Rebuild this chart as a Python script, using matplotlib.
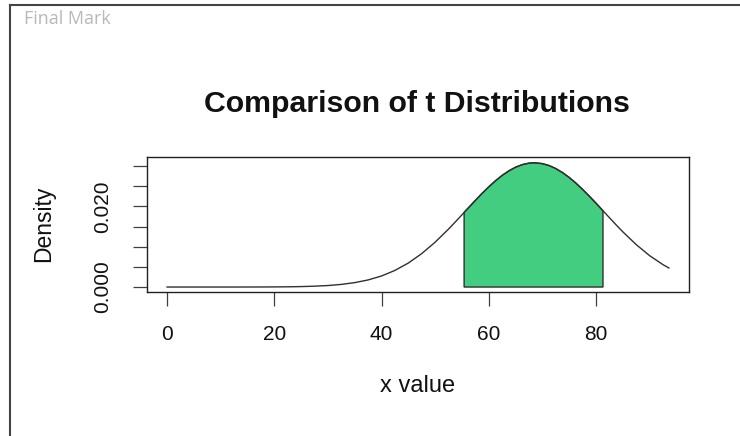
#! /usr/bin/env python3

#A program to redraw the t distribution comparison chart.

import numpy as np
import matplotlib
matplotlib.use('Agg')
import matplotlib.pyplot as plt
from matplotlib.lines import Line2D

#Density curve.
xVals = [0.0, 2.5, 5.0, 7.5, 10.0, 12.5, 15.0, 17.5, 20.0, 22.5, 25.0, 27.5, 30.0,
         32.5, 35.0, 37.5, 40.0, 42.5, 45.0, 47.5, 50.0, 52.5, 53.75, 55.0, 56.25,
         57.5, 58.75, 60.0, 61.25, 62.5, 63.75, 65.0, 66.25, 67.5, 68.5, 70.0, 71.25,
         72.5, 73.75, 75.0, 76.25, 77.5, 78.75, 80.0, 81.25, 82.5, 83.75, 85.0, 87.5,
         90.0, 92.5, 93.6]
densVals = [0.0, 0.0, 0.0, 0.0, 0.0, 0.0, 0.000006, 0.000013, 0.000028, 0.000057,
            0.00011, 0.00021, 0.00037, 0.00065, 0.00109, 0.00176, 0.00274, 0.00412,
            0.00595, 0.00829, 0.01112, 0.01437, 0.01612, 0.01790, 0.01971, 0.02148,
            0.02321, 0.02484, 0.02634, 0.02767, 0.02880, 0.02970, 0.03034, 0.03071,
            0.03080, 0.03059, 0.03011, 0.02937, 0.02837, 0.02716, 0.02576, 0.02420,
            0.02253, 0.02078, 0.01899, 0.01719, 0.01541, 0.01369, 0.01051, 0.00778,
            0.00554, 0.00472]

#Shaded region.
shadeX = [55.4, 56.25, 57.5, 58.75, 60.0, 61.25, 62.5, 63.75, 65.0, 66.25, 67.5,
          68.5, 70.0, 71.25, 72.5, 73.75, 75.0, 76.25, 77.5, 78.75, 80.0, 81.3]
shadeY = [0.01848, 0.01971, 0.02148, 0.02321, 0.02484, 0.02634, 0.02767, 0.02880,
          0.02970, 0.03034, 0.03071, 0.03080, 0.03059, 0.03011, 0.02937, 0.02837,
          0.02716, 0.02576, 0.02420, 0.02253, 0.02078, 0.01890]

#Axis ticks.
xTicks = [0, 20, 40, 60, 80]
yTicks = [0.000, 0.005, 0.010, 0.015, 0.020, 0.025, 0.030]
yTickLabels = ['0.000', '', '', '', '0.020', '', '']

titleStr = 'Comparison of t Distributions'

def plotDensity(outfile) :

  plt.rcParams['font.family'] = ['Liberation Sans', 'DejaVu Sans']

  fig = plt.figure(figsize = (7.4, 4.36), dpi = 100)
  W, H = 740.0, 436.0

  #Plot region in pixels: left 147, right 689, top 157, bottom 292.
  ax = fig.add_axes([147/W, 1 - 292/H, (689 - 147)/W, (292 - 157)/H])

  ax.plot(xVals, densVals, color = '#303030', lw = 1.0)

  #Polygon with a border, like R's polygon().
  polyX = [shadeX[0]] + shadeX + [shadeX[-1]]
  polyY = [0.0] + shadeY + [0.0]
  ax.fill(polyX, polyY, facecolor = '#43CD80', edgecolor = '#303030', lw = 1.0)

  #R style limits: 4% padding.
  xr = max(xVals) - min(xVals)
  ax.set_xlim(min(xVals) - 0.04*xr, max(xVals) + 0.04*xr)
  yr = max(densVals)
  ax.set_ylim(-0.04*yr, yr*1.04 + 0.0002)

  ax.set_xticks(xTicks)
  ax.set_xticklabels([str(v) for v in xTicks])
  ax.set_yticks(yTicks)
  ax.set_yticklabels(yTickLabels, rotation = 90, va = 'center')

  ax.tick_params(axis = 'both', direction = 'out', length = 10, width = 0.9,
                 color = '#404040', labelsize = 15, labelcolor = '#111111')
  ax.tick_params(axis = 'x', pad = 14)
  ax.tick_params(axis = 'y', pad = 15)

  for sp in ax.spines.values() :
    sp.set_linewidth(1.0)
    sp.set_color('#202020')
  #End of for loop

  fig.text(417/W, 1 - 104/H, titleStr, ha = 'center', va = 'center',
           fontsize = 21.8, fontweight = 'bold', color = '#111111')
  fig.text(418/W, 1 - 386/H, 'x value', ha = 'center', va = 'center',
           fontsize = 17, color = '#111111')
  fig.text(44/W, 1 - 224/H, 'Density', ha = 'center', va = 'center',
           rotation = 90, fontsize = 16.5, color = '#111111')

  #Window frame and caption.
  fig.add_artist(Line2D([10/W, 1.0], [1 - 5/H, 1 - 5/H], color = '#444444', lw = 1.5))
  fig.add_artist(Line2D([10/W, 10/W], [0.0, 1 - 5/H], color = '#444444', lw = 1.5))
  fig.text(24/W, 1 - 19/H, 'Final Mark', ha = 'left', va = 'center',
           fontsize = 13, color = '#b8b8b8', family = ['Open Sans', 'DejaVu Sans'])

  fig.savefig(outfile, dpi = 100)
  plt.close(fig)
#End of the function plotDensity

def main() :
  plotDensity('out.png')

if __name__ == '__main__':
  main()
